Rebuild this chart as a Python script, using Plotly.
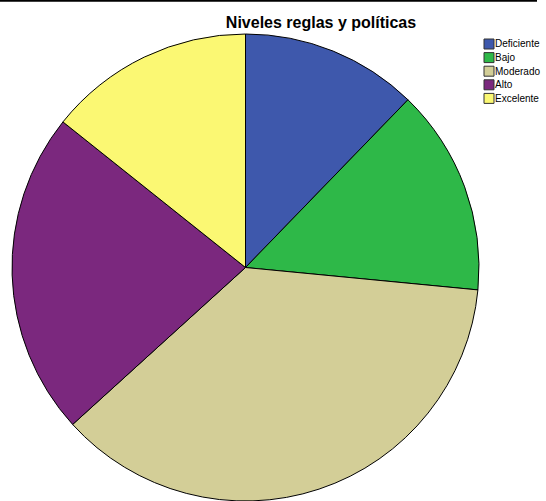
import plotly.graph_objects as go

# Frequencies per level
niveles = ["Deficiente", "Bajo", "Moderado", "Alto", "Excelente"]
frecuencias = [6, 7, 18, 11, 7]
colores = ["#3E58AC", "#2EB848", "#D3CE97", "#7B287E", "#FBF873"]

W, H = 546, 501

fig = go.Figure(
    go.Pie(
        labels=niveles,
        values=frecuencias,
        sort=False,
        direction="clockwise",
        rotation=0,
        textinfo="none",
        hoverinfo="label+value+percent",
        showlegend=False,
        marker=dict(colors=colores, line=dict(color="#000000", width=1)),
        domain=dict(x=[10 / W, 481 / W], y=[0, 1 - 34 / H]),
    )
)

# Compact legend: small bordered swatches with labels beside them
shapes = [
    dict(
        type="line", xref="paper", yref="paper",
        x0=0, x1=537 / W, y0=1 - 0.8 / H, y1=1 - 0.8 / H,
        line=dict(color="#000000", width=2),
    )
]
annotations = []
row_top, row_step, sw = 39, 13.6, 10
for i, (nombre, color) in enumerate(zip(niveles, colores)):
    top = row_top + i * row_step
    shapes.append(
        dict(
            type="rect", xref="paper", yref="paper",
            x0=484 / W, x1=(484 + sw) / W,
            y0=1 - (top + sw) / H, y1=1 - top / H,
            fillcolor=color, line=dict(color="#333333", width=1),
        )
    )
    annotations.append(
        dict(
            text=nombre, xref="paper", yref="paper",
            x=494 / W, y=1 - (top + sw / 2) / H,
            xanchor="left", yanchor="middle", showarrow=False,
            borderpad=0,
            font=dict(size=10, family="Liberation Sans, Arial, sans-serif", color="#000000"),
        )
    )

fig.update_layout(
    width=W,
    height=H,
    margin=dict(l=0, r=0, t=0, b=0, autoexpand=False),
    paper_bgcolor="white",
    plot_bgcolor="white",
    showlegend=False,
    font=dict(family="Liberation Sans, Arial, sans-serif", color="#000000"),
    title=dict(
        text="<b>Niveles reglas y políticas</b>",
        x=321 / W,
        xanchor="center",
        xref="container",
        y=1 - 22 / H,
        yanchor="middle",
        yref="container",
        font=dict(size=16, family="Liberation Sans, Arial, sans-serif"),
    ),
    shapes=shapes,
    annotations=annotations,
)

fig.write_html("out.html")
